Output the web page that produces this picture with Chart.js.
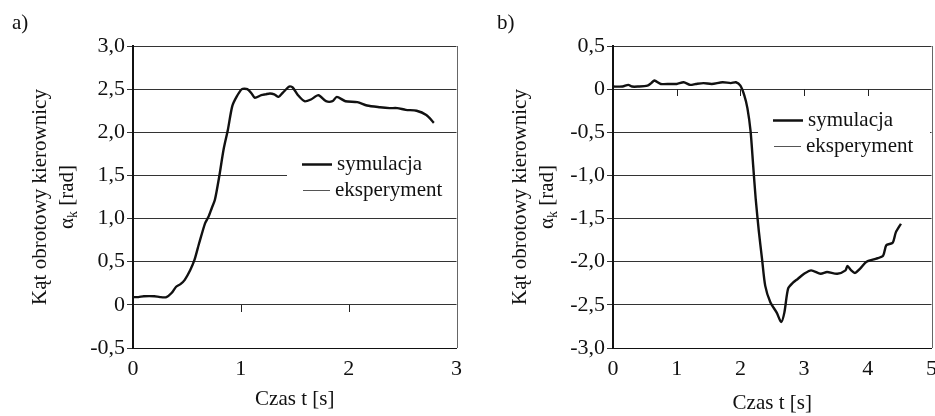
<!DOCTYPE html>
<html>
<head>
<meta charset="utf-8">
<script src="https://cdn.jsdelivr.net/npm/chart.js@4.4.0/dist/chart.umd.min.js"></script>
<style>
  html, body { margin: 0; padding: 0; background: #fff; overflow: hidden; width: 935px; height: 416px; }
  .panel { position: absolute; top: 0; height: 416px; }
  #wrapA { left: 0; width: 470px; }
  #wrapB { left: 465px; width: 480px; }
  .tag { position: absolute; top: 12px; font: 21px/21px 'Liberation Serif', serif; color: #111; }
</style>
</head>
<body>
<div class="panel" id="wrapA"><canvas id="chartA" width="470" height="416"></canvas></div>
<div class="panel" id="wrapB"><canvas id="chartB" width="480" height="416"></canvas></div>
<div class="tag" style="left:12px">a)</div>
<div class="tag" style="left:497px">b)</div>
<script>
// panel a) - time [s] and steering angle [rad]
const timeA = [0, 0.05, 0.1, 0.2, 0.25, 0.31, 0.36, 0.40, 0.44, 0.48,
  0.53, 0.57, 0.61, 0.64, 0.67, 0.70, 0.73, 0.76, 0.80, 0.84,
  0.88, 0.92, 0.96, 1.01, 1.06, 1.10, 1.13, 1.19, 1.23, 1.27,
  1.31, 1.35, 1.39, 1.45, 1.48, 1.53, 1.59, 1.65, 1.72, 1.79,
  1.85, 1.89, 1.97, 2.08, 2.17, 2.29, 2.38, 2.45, 2.53, 2.63,
  2.72, 2.79];
const simA = [0.09, 0.09, 0.10, 0.10, 0.09, 0.09, 0.14, 0.21, 0.24, 0.29,
  0.40, 0.52, 0.70, 0.83, 0.95, 1.02, 1.12, 1.22, 1.49, 1.80,
  2.03, 2.30, 2.41, 2.50, 2.50, 2.45, 2.40, 2.43, 2.44, 2.45,
  2.44, 2.41, 2.46, 2.53, 2.52, 2.43, 2.36, 2.38, 2.43, 2.36,
  2.36, 2.41, 2.36, 2.35, 2.31, 2.29, 2.28, 2.28, 2.26, 2.25,
  2.20, 2.11];

// panel b)
const timeB = [0, 0.15, 0.24, 0.30, 0.39, 0.54, 0.60, 0.65, 0.75, 0.90,
  1.00, 1.11, 1.21, 1.30, 1.42, 1.55, 1.72, 1.85, 1.93, 2.00,
  2.06, 2.11, 2.16, 2.20, 2.24, 2.29, 2.34, 2.39, 2.47, 2.57,
  2.64, 2.69, 2.75, 2.83, 2.90, 3.00, 3.11, 3.26, 3.36, 3.52,
  3.65, 3.68, 3.74, 3.80, 3.88, 3.98, 4.11, 4.24, 4.29, 4.39,
  4.44, 4.52];
const simB = [0.03, 0.03, 0.05, 0.03, 0.03, 0.04, 0.07, 0.10, 0.06, 0.06,
  0.06, 0.08, 0.05, 0.06, 0.07, 0.06, 0.08, 0.07, 0.08, 0.04,
  -0.07, -0.22, -0.49, -0.88, -1.27, -1.65, -1.97, -2.28, -2.47, -2.59,
  -2.70, -2.59, -2.31, -2.24, -2.20, -2.14, -2.10, -2.14, -2.12, -2.14,
  -2.10, -2.05, -2.10, -2.13, -2.08, -2.00, -1.97, -1.93, -1.81, -1.78,
  -1.66, -1.56];

const yLabelsA = ['-0,5', '0', '0,5', '1,0', '1,5', '2,0', '2,5', '3,0'];
const yLabelsB = ['-3,0', '-2,5', '-2,0', '-1,5', '-1,0', '-0,5', '0', '0,5'];
const xLabelsA = ['0', '1', '2', '3'];
const xLabelsB = ['0', '1', '2', '3', '4', '5'];
const seriesNames = ['symulacja', 'eksperyment'];
const xTitle = 'Czas t [s]';
const yTitle = 'Kąt obrotowy kierownicy';

Chart.defaults.font.family = "'Liberation Serif', 'Times New Roman', serif";
Chart.defaults.color = '#111';

const decor = {
  id: 'decor',
  afterDraw(chart, args, opts) {
    const { ctx, chartArea: ca, scales: { x, y } } = chart;
    ctx.save();

    // legend inside the plot
    const lx = ca.left + opts.legend.x;
    const ly = ca.top + opts.legend.y;
    ctx.fillStyle = '#fff';
    ctx.fillRect(lx - 15, ly - 14, 172, 55);
    chart.data.datasets.forEach((ds, i) => {
      const ry = Math.round(ly + i * 26) + 0.5;
      ctx.strokeStyle = ds.borderColor;
      ctx.lineWidth = i === 0 ? 2.5 : 1;
      ctx.beginPath();
      ctx.moveTo(lx + (i ? 1 : 0), ry);
      ctx.lineTo(lx + (i ? 28 : 30), ry);
      ctx.stroke();
      ctx.fillStyle = '#111';
      ctx.font = "21px 'Liberation Serif', serif";
      ctx.textAlign = 'left';
      ctx.textBaseline = 'middle';
      ctx.fillText(ds.label, lx + (i ? 33 : 35), ry);
    });

    // right frame line
    ctx.strokeStyle = '#666';
    ctx.lineWidth = 1;
    ctx.beginPath();
    ctx.moveTo(Math.round(ca.right) + 0.5, ca.top);
    ctx.lineTo(Math.round(ca.right) + 0.5, ca.bottom);
    ctx.stroke();

    // tick marks on the zero line
    const y0 = Math.round(y.getPixelForValue(0));
    ctx.strokeStyle = '#222';
    opts.marks.forEach(v => {
      const px = Math.round(x.getPixelForValue(v)) + 0.5;
      ctx.beginPath();
      ctx.moveTo(px, y0);
      ctx.lineTo(px, y0 + 7);
      ctx.stroke();
    });

    // y title, two lines, with subscript k
    const cy = (ca.top + ca.bottom) / 2;
    ctx.fillStyle = '#111';
    ctx.textBaseline = 'middle';
    ctx.translate(ca.left - 93, cy);
    ctx.rotate(-Math.PI / 2);
    ctx.font = "21px 'Liberation Serif', serif";
    ctx.textAlign = 'center';
    ctx.fillText(yTitle, 0, 0);
    ctx.resetTransform();
    ctx.translate(ca.left - 66, cy);
    ctx.rotate(-Math.PI / 2);
    ctx.textAlign = 'left';
    const big = "21px 'Liberation Serif', serif";
    const small = "14px 'Liberation Serif', serif";
    ctx.font = big;
    const wA = ctx.measureText('α').width;
    const wR = ctx.measureText(' [rad]').width;
    ctx.font = small;
    const wK = ctx.measureText('k').width;
    let tx = -(wA + wK + wR) / 2;
    ctx.font = big;
    ctx.fillText('α', tx, 0);
    tx += wA;
    ctx.font = small;
    ctx.fillText('k', tx, 6);
    tx += wK;
    ctx.font = big;
    ctx.fillText(' [rad]', tx, 0);
    ctx.resetTransform();
    ctx.restore();
  }
};

function makeChart(id, times, values, yMin, yMax, yLabels, xMax, xLabels, yWidth, padRight, marks, legend, titlePad) {
  return new Chart(document.getElementById(id), {
    type: 'line',
    data: {
      datasets: [
        {
          label: seriesNames[0],
          data: times.map((t, i) => ({ x: t, y: values[i] })),
          borderColor: '#111',
          borderWidth: 2.4,
          pointRadius: 0,
          tension: 0.25,
          fill: false
        },
        {
          label: seriesNames[1],
          data: [],
          borderColor: '#555',
          borderWidth: 1,
          pointRadius: 0
        }
      ]
    },
    options: {
      responsive: false,
      animation: false,
      layout: { padding: { top: 46, right: padRight, left: 0, bottom: 0 } },
      plugins: {
        legend: { display: false },
        tooltip: { enabled: false },
        decor: { marks: marks, legend: legend }
      },
      scales: {
        x: {
          type: 'linear',
          min: 0,
          max: xMax,
          afterFit: s => { s.height = 68; },
          ticks: {
            stepSize: 1,
            padding: 8,
            maxRotation: 0,
            font: { size: 22 },
            callback: (v, i) => xLabels[i]
          },
          grid: { display: true, drawOnChartArea: false, drawTicks: false },
          border: { display: true, color: '#111', width: 1 },
          title: { display: true, text: xTitle, font: { size: 21 }, padding: { top: 4, bottom: titlePad } }
        },
        y: {
          min: yMin,
          max: yMax,
          afterFit: s => { s.width = yWidth; },
          ticks: {
            stepSize: 0.5,
            padding: 2,
            font: { size: 22 },
            callback: (v, i) => yLabels[i]
          },
          grid: { color: '#333', lineWidth: 1, tickLength: 6 },
          border: { display: true, color: '#111', width: 2 }
        }
      }
    },
    plugins: [decor]
  });
}

makeChart('chartA', timeA, simA, -0.5, 3, yLabelsA, 3, xLabelsA, 133, 9, [1, 2], { x: 169, y: 118 }, 4);
makeChart('chartB', timeB, simB, -3, 0.5, yLabelsB, 5, xLabelsB, 148, 7, [1, 2, 3, 4], { x: 160, y: 74 }, 0);
</script>
</body>
</html>
